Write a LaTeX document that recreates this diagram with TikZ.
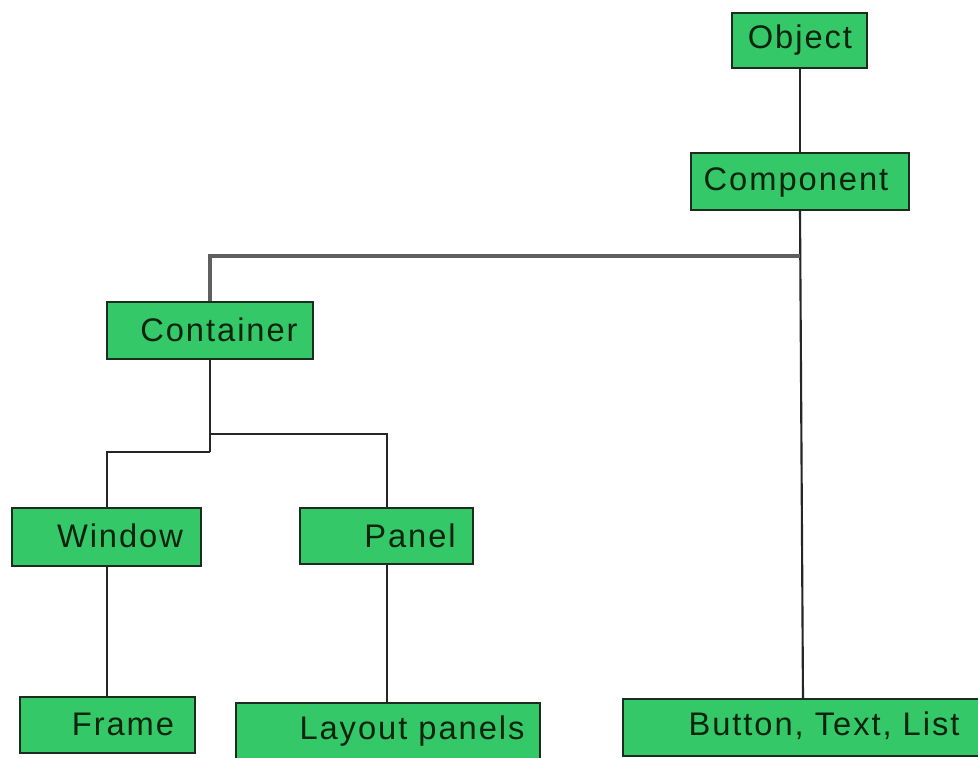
\documentclass[tikz,border=0pt]{standalone}
\usepackage{fontspec}
\setmainfont{Liberation Sans}[LetterSpace=6]
\usetikzlibrary{fit}
\definecolor{boxgreen}{RGB}{52,200,104}
\definecolor{boxedge}{RGB}{28,44,30}
\definecolor{txtcol}{RGB}{12,36,14}
\definecolor{topline}{RGB}{95,95,95}
\tikzset{
  box/.style={draw=boxedge, fill=boxgreen, line width=1.9pt, inner sep=0pt, rectangle},
  lbl/.style={text=txtcol, font=\fontsize{24.5}{26}\selectfont, inner sep=0pt},
  conn/.style={draw=black!85, line width=1.6pt},
  gconn/.style={draw=topline, line width=2.4pt},
}
\begin{document}
\begin{tikzpicture}[x=0.75pt,y=-0.75pt]
\useasboundingbox (0,0) rectangle (978,757);
\clip (0,0) rectangle (978,757);
\fill[white] (0,0) rectangle (978,757);
% coordinates for connector joints
\coordinate (jtop) at (800,256);
\coordinate (jcl) at (210,256);
\coordinate (jc1) at (210,434);
\coordinate (jc1r) at (387,434);
\coordinate (jc2) at (210,452);
\coordinate (jc2l) at (107,452);
% connectors (drawn first, under boxes)
\draw[conn] (800,68) -- (800,153);
\draw[conn] (800,210) -- (803,700);
\draw[gconn] (jtop) -- (jcl) -- (210,302);
\draw[conn] (210,359) -- (jc2);
\draw[conn] (jc1) -- (jc1r) -- (387,508);
\draw[conn] (jc2) -- (jc2l) -- (107,508);
\draw[conn] (107,566) -- (107,697);
\draw[conn] (387,564) -- (387,703);
% boxes
\node[box, fit={(732,13) (867,68)}] (obj) {};
\node[box, fit={(691,153) (909,210)}] (comp) {};
\node[box, fit={(107,302) (313,359)}] (cont) {};
\node[box, fit={(12,508) (201,566)}] (win) {};
\node[box, fit={(300,508) (473,564)}] (pan) {};
\node[box, fit={(20,697) (195,753)}] (frm) {};
\node[box, fit={(236,703) (540,770)}] (lay) {};
\node[box, fit={(623,699) (995,756)}] (btn) {};
% labels
\node[lbl] (tobj) at (800,40) {Object};
\node[lbl] (tcomp) at (796,182) {Component};
\node[lbl] (tcont) at (219,330) {Container};
\node[lbl] (twin) at (120,536) {Window};
\node[lbl] (tpan) at (410,536) {Panel};
\node[lbl] (tfrm) at (123,724) {Frame};
\node[lbl] (tlay) at (412,731) {Layout panels};
\node[lbl] (tbtn) at (824,726) {Button, Text, List};
\end{tikzpicture}
\end{document}
